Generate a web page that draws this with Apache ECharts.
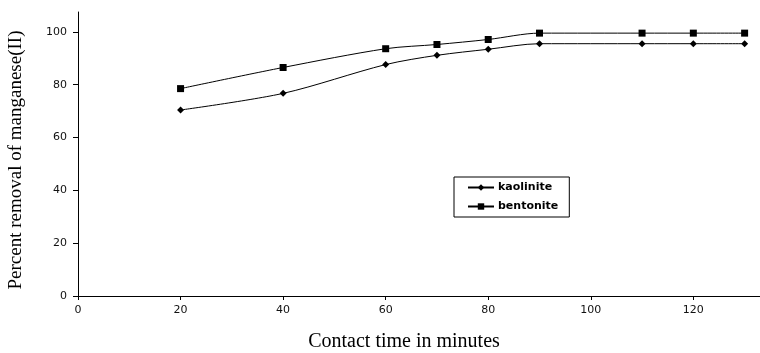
<!DOCTYPE html>
<html>
<head>
<meta charset="utf-8">
<script src="https://cdn.jsdelivr.net/npm/echarts@6/dist/echarts.min.js"></script>
<style>
  html, body { margin: 0; padding: 0; background: #fff; }
  #chart { width: 760px; height: 353px; }
</style>
</head>
<body>
<div id="chart"></div>
<script>
// contact time (min)
const times = [20, 40, 60, 70, 80, 90, 110, 120, 130];
// percent removal of Mn(II)
const kaolinite = [70.4, 76.7, 87.6, 91.1, 93.4, 95.5, 95.5, 95.5, 95.5];
const bentonite = [78.5, 86.5, 93.6, 95.2, 97.1, 99.5, 99.5, 99.5, 99.5];

const pairs = (ys) => times.map((t, i) => [t, ys[i]]);

const chart = echarts.init(document.getElementById('chart'));

const tickFont = { color: '#111', fontFamily: 'DejaVu Sans', fontSize: 11 };
const titleFont = { fontFamily: 'Liberation Serif, Times New Roman', color: '#000' };

chart.setOption({
  animation: false,
  grid: { left: 78, right: 0, top: 12, bottom: 57, outerBoundsMode: 'none' },
  legend: {
    orient: 'vertical',
    left: 454,
    top: 177,
    itemWidth: 26,
    itemHeight: 8,
    itemGap: 6,
    padding: [4, 11, 4, 13],
    borderColor: '#000',
    borderWidth: 1,
    textStyle: { fontFamily: 'DejaVu Sans', fontWeight: 'bold', fontSize: 11, lineHeight: 13, color: '#000', padding: [0, 0, 0, -1] },
    data: ['kaolinite', 'bentonite']
  },
  xAxis: {
    type: 'value',
    min: 0,
    max: 133,
    interval: 20,
    name: 'Contact time in minutes',
    nameLocation: 'middle',
    nameGap: 36,
    nameTextStyle: Object.assign({ fontSize: 20, padding: [0, 30, 0, 0] }, titleFont),
    axisLine: { lineStyle: { color: '#000', width: 1 } },
    axisTick: { show: true, length: 4, lineStyle: { color: '#000' } },
    axisLabel: Object.assign({ margin: 9, showMaxLabel: false }, tickFont),
    splitLine: { show: false }
  },
  yAxis: {
    type: 'value',
    min: 0,
    max: 107.5,
    interval: 20,
    name: 'Percent removal of manganese(II)',
    nameLocation: 'middle',
    nameGap: 52,
    nameTextStyle: Object.assign({ fontSize: 19, padding: [0, 12, 0, 0] }, titleFont),
    axisLine: { show: true, lineStyle: { color: '#000', width: 1 } },
    axisTick: { show: true, length: 5, lineStyle: { color: '#000' } },
    axisLabel: Object.assign({ margin: 11, showMaxLabel: false }, tickFont),
    splitLine: { show: false }
  },
  series: [
    {
      name: 'kaolinite',
      type: 'line',
      data: pairs(kaolinite),
      smooth: 0.3,
      symbol: 'diamond',
      symbolSize: 7,
      itemStyle: { color: '#000' },
      lineStyle: { color: '#000', width: 1 }
    },
    {
      name: 'bentonite',
      type: 'line',
      data: pairs(bentonite),
      smooth: 0.3,
      symbol: 'rect',
      symbolSize: 7,
      itemStyle: { color: '#000' },
      lineStyle: { color: '#000', width: 1 }
    }
  ]
});
</script>
</body>
</html>
